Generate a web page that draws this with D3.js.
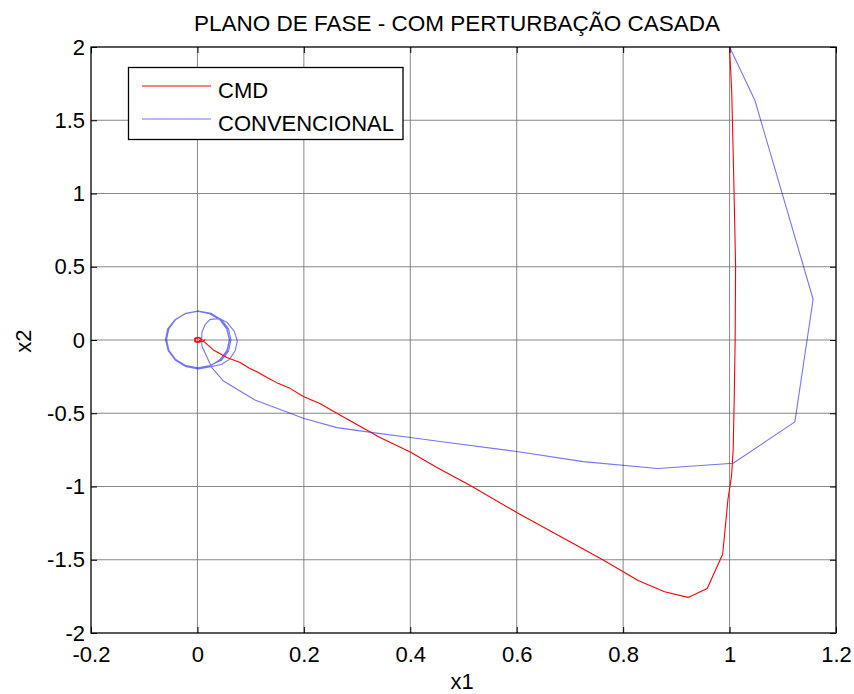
<!DOCTYPE html>
<html>
<head>
<meta charset="utf-8">
<script src="https://cdn.jsdelivr.net/npm/d3@7"></script>
<style>
  html, body { margin: 0; padding: 0; background: #fff; }
  svg { display: block; }
  text { font-family: "Liberation Sans", Arial, sans-serif; fill: #000; }
</style>
</head>
<body>
<svg id="chart" width="854" height="694"></svg>
<script>
// Tick values
const xTicks = [-0.2, 0, 0.2, 0.4, 0.6, 0.8, 1, 1.2];
const yTicks = [-2, -1.5, -1, -0.5, 0, 0.5, 1, 1.5, 2];

// CMD trajectory (x1, x2)
const cmdX1 = [1.000, 1.004, 1.0075, 1.0113, 1.0105, 1.0087, 1.0068, 1.0037, 0.997, 0.987,
  0.958, 0.922, 0.878, 0.828, 0.797, 0.760, 0.600, 0.512, 0.450, 0.400,
  0.343, 0.262, 0.230, 0.199, 0.174, 0.149, 0.1315, 0.1146, 0.0977, 0.0802,
  0.0552, 0.030, 0.0145, 0.011, 0.014, 0.010, 0.007, 0.006, 0.001, -0.005,
  -0.005, 0.000, 0.006, 0.007, 0.002, -0.004, -0.004, 0.001, 0.005];
const cmdX2 = [1.990, 1.700, 1.164, 0.505, 0.000, -0.404, -0.745, -0.928, -1.087, -1.462,
  -1.696, -1.757, -1.719, -1.641, -1.575, -1.496, -1.177, -0.991, -0.870, -0.764,
  -0.666, -0.500, -0.434, -0.386, -0.330, -0.291, -0.257, -0.222, -0.193, -0.154,
  -0.120, -0.068, -0.018, -0.008, 0.002, -0.010, -0.008, 0.014, 0.018, 0.012,
  -0.012, -0.017, -0.013, 0.006, 0.016, 0.009, -0.009, -0.014, -0.002];

// Conventional controller trajectory (x1, x2)
const convX1 = [1.000, 1.0475, 1.157, 1.1227, 1.0068, 0.865, 0.725, 0.600, 0.456, 0.400,
  0.330, 0.262, 0.199, 0.168, 0.108, 0.049, 0.027, 0.0083, 0.0083, 0.0145,
  0.024, 0.0426, 0.056, 0.069, 0.075, 0.0708, 0.060, 0.0458,
  0.0254, 0.002, -0.0214, -0.0411, -0.0544, -0.059, -0.0544, -0.0411, -0.0214, 0.002,
  0.0254, 0.0451, 0.0584, 0.063, 0.0584, 0.0451,
  0.0236, 0.001, -0.0216, -0.0407, -0.0535, -0.058, -0.0535, -0.0407, -0.0216, 0.001,
  0.0236, 0.0427, 0.0555, 0.060, 0.0555, 0.0427,
  0.0240, 0.000, -0.0230, -0.0420, -0.0550, -0.0600, -0.0560, -0.0420, -0.0225, 0.000,
  0.0225, 0.0420, 0.0550, 0.0600, 0.0560, 0.0420,
  0.0235, 0.001, -0.0222, -0.0415, -0.0545, -0.0595, -0.0550, -0.0415, -0.0220, 0.001,
  0.0230, 0.0425, 0.0555, 0.0605, 0.0560, 0.0425, 0.0232, 0.000];
const convX2 = [2.000, 1.637, 0.278, -0.559, -0.841, -0.877, -0.830, -0.761, -0.693, -0.666,
  -0.632, -0.598, -0.534, -0.491, -0.409, -0.280, -0.188, -0.041, 0.050, 0.107,
  0.141, 0.146, 0.119, 0.061, -0.007, -0.075, -0.132, -0.166,
  -0.182, -0.197, -0.182, -0.139, -0.0754, 0.000, 0.0754, 0.139, 0.182, 0.197,
  0.182, 0.139, 0.0754, 0.000, -0.0754, -0.139,
  -0.174, -0.189, -0.175, -0.133, -0.070, 0.004, 0.078, 0.140, 0.182, 0.197,
  0.182, 0.140, 0.078, 0.004, -0.070, -0.133,
  -0.178, -0.193, -0.179, -0.136, -0.073, 0.002, 0.076, 0.139, 0.181, 0.196,
  0.180, 0.138, 0.075, 0.002, -0.073, -0.136,
  -0.177, -0.192, -0.178, -0.135, -0.072, 0.003, 0.077, 0.140, 0.183, 0.198,
  0.181, 0.139, 0.076, 0.001, -0.074, -0.137, -0.179, -0.193];

const cmdData = cmdX1.map((v, i) => [v, cmdX2[i]]);
const convData = convX1.map((v, i) => [v, convX2[i]]);

const svg = d3.select("#chart");
const plotL = 91, plotR = 836, plotT = 47, plotB = 633;

const x = d3.scaleLinear().domain([-0.2, 1.2]).range([plotL, plotR]);
const y = d3.scaleLinear().domain([-2, 2]).range([plotB, plotT]);

// Grid
const grid = svg.append("g").attr("stroke", "#7a7a7a").attr("stroke-width", 0.9);
grid.selectAll("line.gx").data(xTicks.slice(1, -1)).enter().append("line")
  .attr("x1", d => x(d)).attr("x2", d => x(d)).attr("y1", plotT).attr("y2", plotB);
grid.selectAll("line.gy").data(yTicks.slice(1, -1)).enter().append("line")
  .attr("y1", d => y(d)).attr("y2", d => y(d)).attr("x1", plotL).attr("x2", plotR);

// Curves
const line = d3.line().x(d => x(d[0])).y(d => y(d[1]));
svg.append("path").datum(convData).attr("d", line)
  .attr("fill", "none").attr("stroke", "#0000ff").attr("stroke-opacity", 0.55)
  .attr("stroke-width", 1.1).attr("stroke-linejoin", "round");
svg.append("path").datum(cmdData).attr("d", line)
  .attr("fill", "none").attr("stroke", "#ff0000").attr("stroke-width", 1.1)
  .attr("stroke-linejoin", "round");

// Axes
const fs = 22;
const fmt = d => String(d);
const axB = svg.append("g").attr("transform", `translate(0,${plotB})`)
  .call(d3.axisBottom(x).tickValues(xTicks).tickFormat(fmt).tickSizeInner(-6).tickSizeOuter(0).tickPadding(13));
const axL = svg.append("g").attr("transform", `translate(${plotL},0)`)
  .call(d3.axisLeft(y).tickValues(yTicks).tickFormat(fmt).tickSizeInner(-6).tickSizeOuter(0).tickPadding(6));
const axT = svg.append("g").attr("transform", `translate(0,${plotT})`)
  .call(d3.axisTop(x).tickValues(xTicks).tickFormat("").tickSizeInner(-6).tickSizeOuter(0));
const axR = svg.append("g").attr("transform", `translate(${plotR},0)`)
  .call(d3.axisRight(y).tickValues(yTicks).tickFormat("").tickSizeInner(-6).tickSizeOuter(0));
[axB, axL, axT, axR].forEach(g => {
  g.select(".domain").remove();
  g.selectAll("line").attr("stroke", "#000").attr("stroke-width", 1);
  g.selectAll("text").attr("font-size", fs).attr("font-family", "Liberation Sans, Arial, sans-serif").attr("fill", "#000");
});

// Frame
svg.append("rect").attr("x", plotL).attr("y", plotT).attr("width", plotR - plotL).attr("height", plotB - plotT)
  .attr("fill", "none").attr("stroke", "#000").attr("stroke-width", 1.3);

// Title and axis labels
svg.append("text").attr("x", 457).attr("y", 30.5).attr("text-anchor", "middle")
  .attr("font-size", 22.5).text("PLANO DE FASE - COM PERTURBAÇÃO CASADA");
svg.append("text").attr("x", 462).attr("y", 689).attr("text-anchor", "middle")
  .attr("font-size", fs).text("x1");
svg.append("text").attr("transform", "translate(31,341) rotate(-90)").attr("text-anchor", "middle")
  .attr("font-size", fs).text("x2");

// Legend
const legend = svg.append("g");
legend.append("rect").attr("x", 128.5).attr("y", 67.5).attr("width", 274.5).attr("height", 72)
  .attr("fill", "#fff").attr("stroke", "#000").attr("stroke-width", 1.3);
const legItems = [
  { name: "CMD", color: "#ff0000", opacity: 1, y: 86 },
  { name: "CONVENCIONAL", color: "#0000ff", opacity: 0.55, y: 119 }
];
legItems.forEach(it => {
  legend.append("line").attr("x1", 142).attr("x2", 211).attr("y1", it.y).attr("y2", it.y)
    .attr("stroke", it.color).attr("stroke-opacity", it.opacity).attr("stroke-width", 1.1);
  legend.append("text").attr("x", 218).attr("y", it.y + 11.5).attr("font-size", fs).text(it.name);
});
</script>
</body>
</html>
